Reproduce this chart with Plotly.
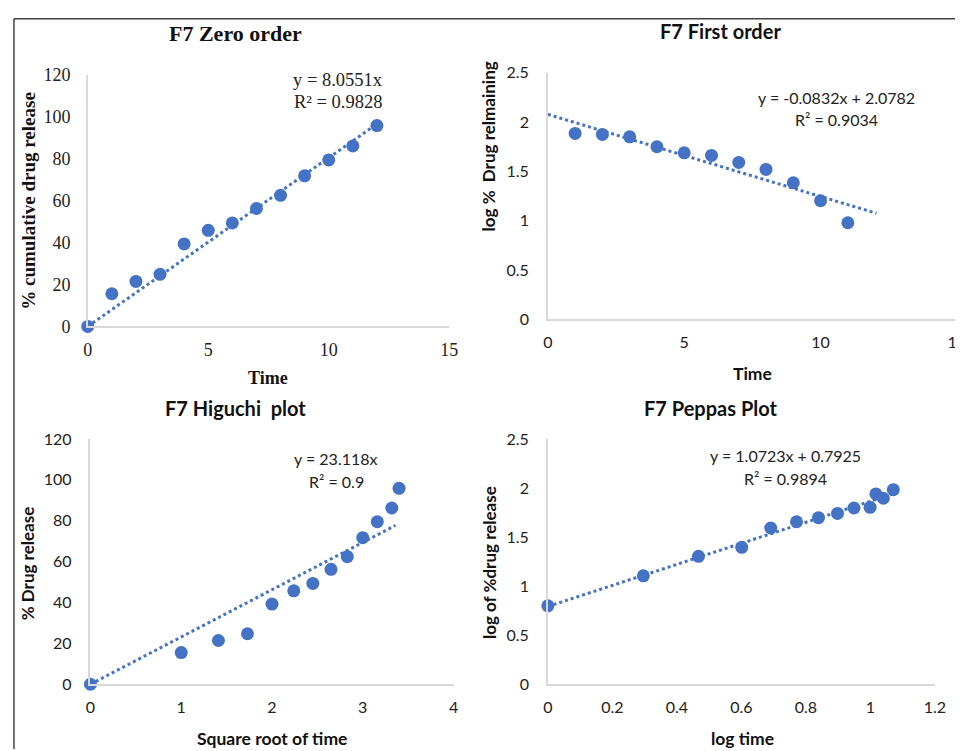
import plotly.graph_objects as go

W, H = 963, 751
# measured mapping of figure pixels to the photographed picture
SX, OXR = 0.984, 12.5
SY, OYR = 0.972, 18.0
BLUE = "#4472C4"
AXIS = "#d9d9d9"
SERIF = "Liberation Serif, Times New Roman, serif"
SANS = "Lato, Carlito, Calibri, sans-serif"

# ---- data ----
time = [0, 1, 2, 3, 4, 5, 6, 7, 8, 9, 10, 11, 12]
cum_release = [0, 15.6, 21.5, 24.9, 39.4, 45.9, 49.4, 56.3, 62.6, 71.9, 79.5, 86.2, 95.9]

fo_time = [1, 2, 3, 4, 5, 6, 7, 8, 9, 10, 11]
log_remaining = [1.885, 1.875, 1.851, 1.75, 1.689, 1.662, 1.591, 1.52, 1.385, 1.203, 0.98]

sqrt_time = [0, 1, 1.41, 1.73, 2, 2.24, 2.45, 2.65, 2.83, 3, 3.16, 3.32, 3.4]
hig_release = [0, 15.5, 21.4, 24.7, 39.2, 45.7, 49.3, 56.2, 62.4, 71.7, 79.5, 86.2, 95.8]

log_time = [0, 0.296, 0.467, 0.601, 0.691, 0.771, 0.839, 0.898, 0.949, 0.999, 1.017, 1.04, 1.071]
log_release = [0.799, 1.105, 1.303, 1.395, 1.592, 1.656, 1.697, 1.741, 1.796, 1.803, 1.939, 1.895, 1.983]

# trendlines: (slope, intercept, x-start, x-end)
zero_fit = (8.0551, 0.0, 0, 12)
first_fit = (-0.0832, 2.0782, 0, 12.05)
hig_fit = (23.118, 0.0, 0, 3.36)
pep_fit = (1.0723, 0.7925, 0, 1.071)

zero_eq = ["y = 8.0551x", "R² = 0.9828"]
first_eq = ["y = -0.0832x + 2.0782", "R² = 0.9034"]
hig_eq = ["y = 23.118x", "R² = 0.9"]
pep_eq = ["y = 1.0723x + 0.7925", "R² = 0.9894"]

titles = ["F7 Zero order", "F7 First order", "F7 Higuchi  plot", "F7 Peppas Plot"]
xtitles = ["Time", "Time", "Square root of time", "log time"]
ytitles = ["% cumulative drug release", "log %  Drug relmaining", "% Drug release", "log of %drug release"]

# panel boxes in picture pixels: (left, right, top, bottom)
boxes = [
    (87.3, 449.0, 75.0, 326.0),
    (547.7, 957.0, 72.7, 319.0),
    (90.0, 453.3, 438.3, 683.3),
    (547.7, 935.0, 438.3, 683.3),
]
xranges = [[0, 15], [0, 15], [0, 4], [0, 1.2]]
yranges = [[0, 120], [0, 2.5], [0, 120], [0, 2.5]]
xdtick = [5, 5, 1, 0.2]
ydtick = [20, 0.5, 20, 0.5]
fonts = [SERIF, SANS, SANS, SANS]


def px(x):
    return min(max(((x - OXR) / SX) / W, 0.0), 1.0)


def py(y):
    return min(max(1 - ((y - OYR) / SY) / H, 0.0), 1.0)


fig = go.Figure()
datasets = [(time, cum_release, zero_fit), (fo_time, log_remaining, first_fit),
            (sqrt_time, hig_release, hig_fit), (log_time, log_release, pep_fit)]

for i, (xs, ys, fit) in enumerate(datasets):
    ax = "" if i == 0 else str(i + 1)
    m, b, xa, xb = fit
    fig.add_trace(go.Scatter(x=[xa, xb], y=[m * xa + b, m * xb + b], mode="lines",
                             line=dict(color=BLUE, width=3, dash="dot"),
                             xaxis="x" + ax, yaxis="y" + ax, showlegend=False,
                             cliponaxis=False, hoverinfo="skip"))
    fig.add_trace(go.Scatter(x=xs, y=ys, mode="markers",
                             marker=dict(color=BLUE, size=13),
                             xaxis="x" + ax, yaxis="y" + ax, showlegend=False,
                             cliponaxis=False))

layout = dict(width=W, height=H, margin=dict(l=0, r=0, t=0, b=0),
              plot_bgcolor="white", paper_bgcolor="white", showlegend=False)

for i, (x0, x1, yt, yb) in enumerate(boxes):
    ax = "" if i == 0 else str(i + 1)
    f = fonts[i]
    tsize = 18 if i == 0 else 16
    layout["xaxis" + ax] = dict(domain=[px(x0), px(x1)], range=xranges[i], dtick=xdtick[i],
                                tick0=0, showgrid=False, zeroline=False, showline=True,
                                linecolor=AXIS, linewidth=1.5, ticks="",
                                tickfont=dict(family=f, size=tsize, color="#222"),
                                ticklabelstandoff=6 if i == 0 else 8,
                                anchor="y" + ax, fixedrange=True)
    layout["yaxis" + ax] = dict(domain=[py(yb), py(yt)], range=yranges[i], dtick=ydtick[i],
                                tick0=0, showgrid=False, zeroline=False, showline=True,
                                linecolor=AXIS, linewidth=1.5, ticks="",
                                tickfont=dict(family=f, size=tsize, color="#222"),
                                ticklabelstandoff=12 if i == 0 else 14,
                                anchor="x" + ax, fixedrange=True)

fig.update_layout(**layout)

ann = []
title_pos = [(235, 33), (720, 31), (235, 407), (711, 407)]
for i, (x, y) in enumerate(title_pos):
    ann.append(dict(text="<b>" + titles[i] + "</b>", x=px(x), y=py(y), xref="paper", yref="paper",
                    showarrow=False, xanchor="center", yanchor="middle",
                    font=dict(family=fonts[i], size=22 if i == 0 else 20, color="#111")))
xt_pos = [(268, 377), (752, 373), (272, 737), (742, 737)]
for i, (x, y) in enumerate(xt_pos):
    ann.append(dict(text="<b>" + xtitles[i] + "</b>", x=px(x), y=py(y), xref="paper", yref="paper",
                    showarrow=False, xanchor="center", yanchor="middle",
                    font=dict(family=fonts[i], size=18 if i == 0 else 17.5, color="#111")))
yt_pos = [(28, 200), (488, 146), (27, 562), (490, 562)]
for i, (x, y) in enumerate(yt_pos):
    ann.append(dict(text="<b>" + ytitles[i] + "</b>", x=px(x), y=py(y), xref="paper", yref="paper",
                    showarrow=False, xanchor="center", yanchor="middle", textangle=-90,
                    font=dict(family=fonts[i], size=19 if i == 0 else 17, color="#111")))
eqs = [zero_eq, first_eq, hig_eq, pep_eq]
eq_pos = [((338, 80), (338, 102)), ((837, 97), (837, 119)),
          ((336, 458), (336, 481)), ((785, 455), (785, 478))]
for i, eq in enumerate(eqs):
    for j in range(2):
        x, y = eq_pos[i][j]
        ann.append(dict(text=eq[j], x=px(x), y=py(y), xref="paper", yref="paper",
                        showarrow=False, xanchor="center", yanchor="middle",
                        font=dict(family=fonts[i], size=18.5 if i == 0 else 16, color="#222")))
fig.update_layout(annotations=ann)

# outer frame (top and left edges)
fx0 = max(px(9.3), 0.001)
fy0 = min(py(11.3), 0.999)
fig.add_shape(type="line", xref="paper", yref="paper", x0=fx0, x1=1.0, y0=fy0, y1=fy0,
              line=dict(color="#444", width=1.5))
fig.add_shape(type="line", xref="paper", yref="paper", x0=fx0, x1=fx0, y0=fy0, y1=0,
              line=dict(color="#444", width=1.5))

fig.write_html("out.html")
